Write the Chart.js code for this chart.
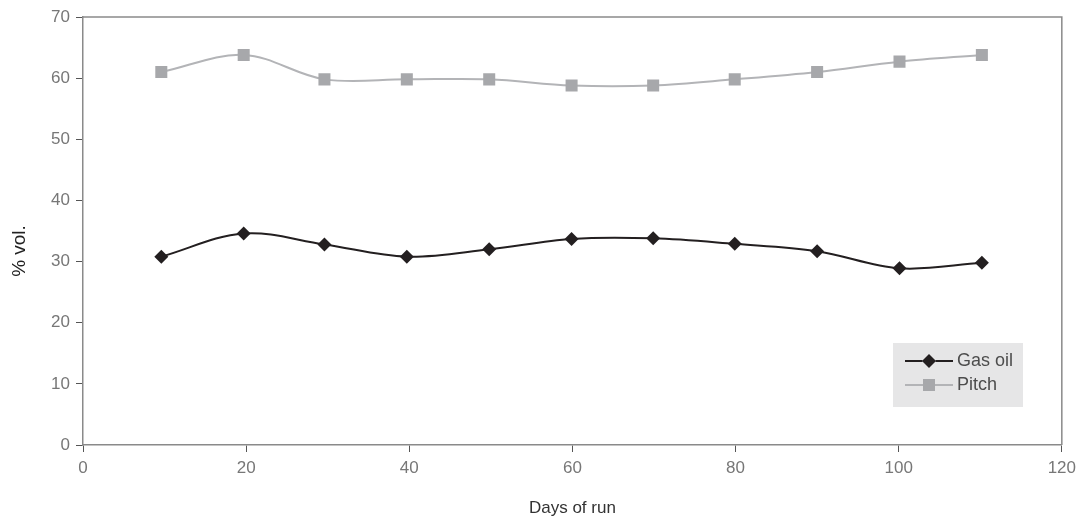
<!DOCTYPE html>
<html>
<head>
<meta charset="utf-8">
<script src="https://cdn.jsdelivr.net/npm/chart.js@4"></script>
<style>
  html, body { margin: 0; padding: 0; background: #fff; }
  #wrap { width: 1082px; height: 519px; position: relative; }
</style>
</head>
<body>
<div id="wrap"><canvas id="c"></canvas></div>
<script>
  "use strict";

  // days of run (x) and % vol. values
  var days = [9.6, 19.7, 29.6, 39.7, 49.8, 59.9, 69.9, 79.9, 90.0, 100.1, 110.2];
  var gasOil = [30.8, 34.6, 32.8, 30.8, 32.0, 33.7, 33.8, 32.9, 31.7, 28.9, 29.8];
  var pitch = [61.0, 63.8, 59.8, 59.8, 59.8, 58.8, 58.8, 59.8, 61.0, 62.7, 63.8];

  var seriesNames = ["Gas oil", "Pitch"];
  var xTicks = [0, 20, 40, 60, 80, 100, 120];
  var yTicks = [0, 10, 20, 30, 40, 50, 60, 70];

  var toPoints = function(ys) {
    var out = [];
    for (var i = 0; i < days.length; i++) out.push({ x: days[i], y: ys[i] });
    return out;
  };

  // frame round the plot area (top + right sides), plus the y title
  var frame = {
    id: "frame",
    afterDraw: function(chart) {
      var a = chart.chartArea, ctx = chart.ctx;
      ctx.save();
      ctx.strokeStyle = "#8a8a8a";
      ctx.lineWidth = 1.5;
      ctx.beginPath();
      ctx.moveTo(a.left, a.top);
      ctx.lineTo(a.right, a.top);
      ctx.lineTo(a.right, a.bottom);
      ctx.stroke();

      ctx.translate(20, 251);
      ctx.rotate(-Math.PI / 2);
      ctx.fillStyle = "#222";
      ctx.font = "19px 'Liberation Sans', Arial, sans-serif";
      ctx.textAlign = "center";
      ctx.textBaseline = "middle";
      ctx.fillText("% vol.", 0, 0);
      ctx.restore();
    }
  };

  // legend box sitting inside the plot, lower right
  var boxLegend = {
    id: "boxLegend",
    afterDraw: function(chart) {
      var ctx = chart.ctx;
      var x0 = 893, y0 = 343, w = 130, h = 64;
      ctx.save();
      ctx.fillStyle = "#e6e6e7";
      ctx.fillRect(x0, y0, w, h);
      chart.data.datasets.forEach(function(ds, i) {
        var y = y0 + 18 + i * 24;
        ctx.strokeStyle = ds.borderColor;
        ctx.lineWidth = ds.borderWidth;
        ctx.beginPath();
        ctx.moveTo(905, y);
        ctx.lineTo(953, y);
        ctx.stroke();
        Chart.helpers.drawPoint(ctx, {
          pointStyle: ds.pointStyle,
          radius: ds.pointRadius,
          borderWidth: 0
        }, 929, y);
        ctx.fillStyle = ds.pointBackgroundColor;
        ctx.fill();
        ctx.fillStyle = "#4d4d4d";
        ctx.font = "18px 'Liberation Sans', Arial, sans-serif";
        ctx.textBaseline = "middle";
        ctx.fillText(ds.label, 957, y);
      });
      ctx.restore();
    }
  };

  var tickFont = { family: "'Liberation Sans', Arial, sans-serif", size: 17 };

  new Chart(document.getElementById("c"), {
    type: "line",
    data: {
      datasets: [
        {
          label: seriesNames[0],
          data: toPoints(gasOil),
          borderColor: "#231f20",
          backgroundColor: "#231f20",
          pointBackgroundColor: "#231f20",
          borderWidth: 2,
          pointStyle: "rectRot",
          pointRadius: 7,
          pointBorderWidth: 0,
          tension: 0.35
        },
        {
          label: seriesNames[1],
          data: toPoints(pitch),
          borderColor: "#b3b4b7",
          backgroundColor: "#a7a8ab",
          pointBackgroundColor: "#a7a8ab",
          borderWidth: 2,
          pointStyle: "rect",
          pointRadius: 8.5,
          pointBorderWidth: 0,
          tension: 0.35
        }
      ]
    },
    options: {
      responsive: true,
      maintainAspectRatio: false,
      animation: false,
      layout: { padding: { top: 17, right: 20, left: 0, bottom: 0 } },
      plugins: { legend: { display: false }, tooltip: { enabled: false } },
      scales: {
        x: {
          type: "linear",
          min: 0,
          max: 120,
          afterBuildTicks: function(s) { s.ticks = xTicks.map(function(v) { return { value: v }; }); },
          afterFit: function(s) { s.height = 74; },
          border: { color: "#8a8a8a", width: 1.5 },
          grid: { drawOnChartArea: false, drawTicks: true, tickLength: 7, color: "#555" },
          ticks: { color: "#777", font: tickFont, padding: 6, maxRotation: 0 },
          title: {
            display: true,
            text: "Days of run",
            color: "#333",
            font: { family: "'Liberation Sans', Arial, sans-serif", size: 17 },
            padding: { top: 14, bottom: 0 }
          }
        },
        y: {
          min: 0,
          max: 70,
          afterBuildTicks: function(s) { s.ticks = yTicks.map(function(v) { return { value: v }; }); },
          afterFit: function(s) { s.width = 83; },
          border: { color: "#8a8a8a", width: 1.5 },
          grid: { drawOnChartArea: false, drawTicks: true, tickLength: 7, color: "#555" },
          ticks: { color: "#777", font: tickFont, padding: 6 }
        }
      }
    },
    plugins: [frame, boxLegend]
  });
</script>
</body>
</html>
